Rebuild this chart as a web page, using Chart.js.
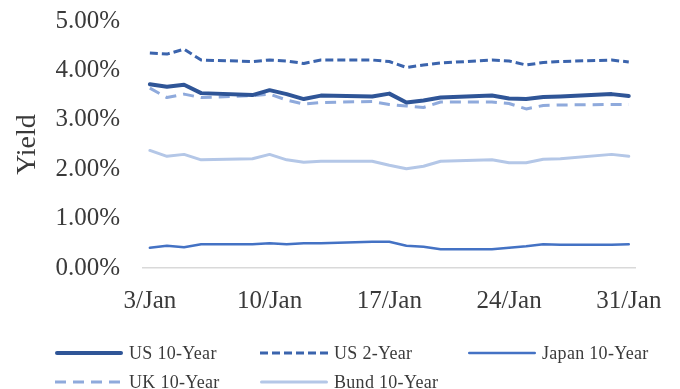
<!DOCTYPE html>
<html>
<head>
<meta charset="utf-8">
<script src="https://cdn.jsdelivr.net/npm/chart.js@4"></script>
<style>
  html, body { margin: 0; padding: 0; background: #fff; }
  #wrap { position: relative; width: 680px; height: 389px; }
  #chart { position: absolute; left: 0; top: 0; }
  #legend { position: absolute; left: 0; top: 0; width: 680px; height: 389px; pointer-events: none;
            font-family: "Liberation Serif", "Times New Roman", serif; font-size: 18px; color: #3a3a3a; }
  .item { position: absolute; display: flex; align-items: center; white-space: nowrap; height: 20px; }
  .item svg { margin-right: 6px; }
  .item span { letter-spacing: 0.3px; }
</style>
</head>
<body>
<div id="wrap">
  <canvas id="chart" width="680" height="389"></canvas>
  <div id="legend"></div>
</div>
<script>
// Trading days in January (day of month)
const days = [3, 4, 5, 6, 9, 10, 11, 12, 13, 16, 17, 18, 19, 20, 23, 24, 25, 26, 27, 30, 31];
const tickDays = [3, 10, 17, 24, 31];

// 10-year and 2-year government bond yields, %
const us10 = [3.72, 3.67, 3.71, 3.54, 3.50, 3.60, 3.52, 3.42, 3.49, 3.47, 3.53, 3.35, 3.39, 3.45, 3.49, 3.43, 3.42, 3.46, 3.47, 3.52, 3.48];
const us2 = [4.35, 4.33, 4.43, 4.21, 4.18, 4.21, 4.19, 4.14, 4.21, 4.21, 4.18, 4.06, 4.11, 4.15, 4.21, 4.19, 4.11, 4.16, 4.18, 4.21, 4.17];
const japan10 = [0.41, 0.45, 0.42, 0.48, 0.48, 0.50, 0.48, 0.50, 0.50, 0.53, 0.53, 0.45, 0.43, 0.38, 0.38, 0.41, 0.44, 0.48, 0.47, 0.47, 0.48];
const uk10 = [3.64, 3.45, 3.52, 3.45, 3.49, 3.52, 3.40, 3.32, 3.35, 3.37, 3.31, 3.28, 3.25, 3.36, 3.36, 3.33, 3.22, 3.29, 3.30, 3.31, 3.31];
const bund10 = [2.38, 2.26, 2.30, 2.19, 2.21, 2.30, 2.19, 2.14, 2.16, 2.16, 2.08, 2.01, 2.06, 2.16, 2.19, 2.13, 2.13, 2.20, 2.21, 2.30, 2.26];

const seriesNames = ['US 10-Year', 'US 2-Year', 'Japan 10-Year', 'UK 10-Year', 'Bund 10-Year'];
const seriesValues = [us10, us2, japan10, uk10, bund10];

const styles = [
  { color: '#2F5597', width: 4,   dash: [],      cap: 'round' },
  { color: '#3B64AD', width: 3,   dash: [8, 4],  cap: 'butt' },
  { color: '#4472C4', width: 2.5, dash: [],      cap: 'round' },
  { color: '#8FAADC', width: 3,   dash: [11, 7], cap: 'butt' },
  { color: '#B4C7E7', width: 3,   dash: [],      cap: 'round' }
];

const serif = '"Liberation Serif", "Times New Roman", serif';
const textColor = '#3a3a3a';

const datasets = seriesNames.map((name, i) => ({
  label: name,
  data: days.map((d, j) => ({ x: d, y: seriesValues[i][j] })),
  borderColor: styles[i].color,
  borderWidth: styles[i].width,
  borderDash: styles[i].dash,
  borderCapStyle: styles[i].cap,
  borderJoinStyle: 'round',
  pointRadius: 0,
  tension: 0,
  fill: false,
  order: i
}));

const chart = new Chart(document.getElementById('chart'), {
  type: 'line',
  data: { datasets },
  options: {
    responsive: false,
    animation: false,
    layout: { padding: { top: 21, right: 43, bottom: 0, left: 0 } },
    plugins: { legend: { display: false }, tooltip: { enabled: false } },
    scales: {
      x: {
        type: 'linear',
        min: 2.6,
        max: 31.4,
        afterBuildTicks: s => { s.ticks = tickDays.map(v => ({ value: v })); },
        afterFit: s => { s.height = 121; },
        ticks: {
          autoSkip: false,
          maxRotation: 0,
          padding: 18,
          color: textColor,
          font: { family: serif, size: 25 },
          callback: v => v + '/Jan'
        },
        grid: { display: false, drawTicks: false },
        border: { display: true, color: '#D9D9D9', width: 1.5 }
      },
      y: {
        min: 0,
        max: 5,
        afterFit: s => {
          s.width = 143;
          s.paddingTop = 0;
          s.paddingBottom = 0;
        },
        ticks: {
          stepSize: 1,
          padding: 23,
          color: textColor,
          font: { family: serif, size: 25 },
          callback: v => v.toFixed(2) + '%'
        },
        grid: { display: false, drawTicks: false },
        border: { display: false },
        title: {
          display: true,
          text: 'Yield',
          color: textColor,
          font: { family: serif, size: 28 },
          padding: { top: 11, bottom: 0 }
        }
      }
    }
  }
});

// Two-row legend laid out in fixed columns under the plot
const legendPos = [
  { left: 55, top: 343 }, { left: 260, top: 343 }, { left: 468, top: 343 },
  { left: 55, top: 372 }, { left: 260, top: 372 }
];
const legend = document.getElementById('legend');
chart.data.datasets.forEach((ds, i) => {
  const item = document.createElement('div');
  item.className = 'item';
  item.style.left = legendPos[i].left + 'px';
  item.style.top = legendPos[i].top + 'px';
  const ns = 'http://www.w3.org/2000/svg';
  const svg = document.createElementNS(ns, 'svg');
  svg.setAttribute('width', '68');
  svg.setAttribute('height', '10');
  const line = document.createElementNS(ns, 'line');
  const inset = styles[i].cap === 'round' ? styles[i].width / 2 : 0;
  line.setAttribute('x1', inset);
  line.setAttribute('x2', 68 - inset);
  line.setAttribute('y1', '5');
  line.setAttribute('y2', '5');
  line.setAttribute('stroke', ds.borderColor);
  line.setAttribute('stroke-width', ds.borderWidth);
  line.setAttribute('stroke-linecap', styles[i].cap);
  if (ds.borderDash.length) line.setAttribute('stroke-dasharray', ds.borderDash.join(' '));
  svg.appendChild(line);
  item.appendChild(svg);
  const label = document.createElement('span');
  label.textContent = ds.label;
  item.appendChild(label);
  legend.appendChild(item);
});
</script>
</body>
</html>
